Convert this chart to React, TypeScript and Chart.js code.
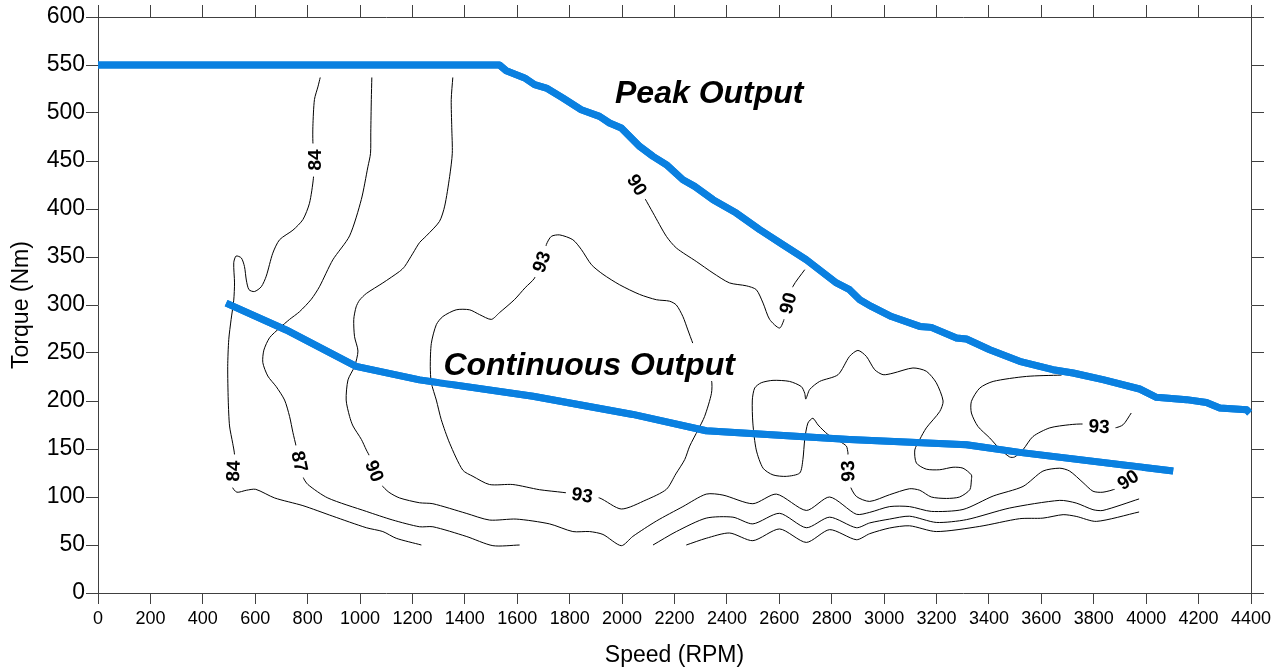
import React, { useEffect, useRef } from 'react';
import { Chart, registerables } from 'chart.js';

Chart.register(...registerables);

type P = [number, number];

// Axis ranges
const speedMin = 0;
const speedMax = 4400;
const speedStep = 200;
const torqueMin = 0;
const torqueMax = 600;
const torqueStep = 50;

// Output curves (RPM, Nm)
const peakOutput: P[] = [
  [0, 550], [1532, 550], [1558, 544], [1628, 536.5], [1666, 529.5], [1711, 526], [1774, 515.6],
  [1844, 503.4], [1914, 496.5], [1952, 489.6], [1997, 484.4], [2067, 465.2], [2118, 454.8],
  [2169, 446.2], [2232, 430.5], [2277, 423.6], [2347, 409.7], [2436, 395.8], [2525, 378.5],
  [2614, 362.8], [2703, 347.2], [2818, 323], [2868, 316], [2907, 305.5], [2951, 298.5],
  [3028, 288], [3136, 277.7], [3180, 276.7], [3276, 265.6], [3314, 264.6], [3403, 253.4],
  [3517, 241.3], [3644, 232.6], [3721, 229.2], [3835, 222.2], [3975, 212.5], [4039, 203.8],
  [4154, 201.4], [4230, 198.5], [4281, 192.7], [4383, 191], [4395, 187.5],
];

const continuousOutput: P[] = [
  [489, 302], [718, 274], [985, 236], [1227, 222], [1660, 205], [2041, 186], [2321, 169],
  [2678, 163], [2868, 160], [3314, 154.5], [3517, 146.5], [4103, 127],
];

// Efficiency contours (RPM, Nm)
const contour84a: P[] = [
  [848, 537], [840, 528], [826, 514], [820, 486], [820, 470], [824, 451], [822, 432], [807, 406],
  [782, 389], [744, 378], [693, 368], [667, 354], [642, 330], [623, 319], [597, 314], [576, 316],
  [566, 326], [559, 340], [547, 349], [527, 351], [518, 344], [521, 323], [518, 305], [508, 285],
  [499, 264], [495, 236], [497, 201], [502, 174], [514, 156], [521, 144], [518, 127], [512, 111],
  [530, 105], [566, 107], [602, 108], [674, 99], [782, 91], [896, 80], [1024, 68], [1087, 64],
  [1138, 57], [1234, 50],
];
const contour84b: P[] = [
  [2245, 50], [2321, 57], [2410, 62.5], [2499, 54.5], [2601, 66.7], [2703, 52.7], [2792, 66],
  [2894, 55.5], [2945, 61.8], [3021, 67.7], [3097, 70], [3199, 64], [3365, 69.4], [3517, 77.4],
  [3606, 78], [3683, 81.6], [3733, 79.8], [3810, 74.6], [3973, 84.4],
];
const contour87a: P[] = [
  [1045, 537], [1043, 514], [1041, 480], [1040, 458], [1030, 444], [1005, 410], [960, 372],
  [896, 347], [845, 319], [814, 306], [769, 293], [731, 285], [693, 276], [655, 266], [633, 253],
  [629, 240], [648, 226], [680, 215], [712, 201], [731, 184], [744, 167], [756, 153], [769, 137],
  [782, 121], [801, 113], [877, 99], [1024, 85], [1125, 76], [1227, 69], [1278, 69], [1405, 59],
  [1507, 49.3], [1609, 50],
];
const contour87b: P[] = [
  [2118, 50], [2207, 64], [2321, 78], [2423, 79], [2499, 72], [2601, 83], [2703, 68], [2792, 79],
  [2894, 68], [2945, 73], [3021, 77], [3097, 80], [3199, 73.5], [3314, 76.4], [3479, 88.5],
  [3670, 96.5], [3733, 93.7], [3797, 86.8], [3835, 86], [3973, 98],
];
const contour90a: P[] = [
  [1354, 537], [1348, 514], [1350, 485], [1352, 458], [1342, 434], [1323, 403], [1303, 387],
  [1253, 372], [1227, 365], [1202, 354], [1170, 340], [1151, 335], [1087, 323], [1024, 312],
  [998, 305], [985, 298], [976, 285], [979, 267], [992, 252], [979, 236], [954, 222], [947, 201],
  [960, 184], [973, 174], [1005, 160], [1024, 149], [1039, 141], [1055, 127], [1081, 113],
  [1110, 105], [1151, 99], [1227, 94], [1278, 93], [1405, 83], [1494, 76], [1596, 77], [1723, 72],
  [1812, 64], [1876, 64], [1927, 61], [1997, 49.3], [2041, 59], [2131, 75], [2232, 90], [2321, 103],
  [2385, 102], [2499, 93], [2589, 103], [2703, 86], [2792, 100], [2894, 82], [2945, 84], [3021, 90],
  [3097, 90], [3180, 85], [3301, 87], [3416, 101], [3530, 111], [3606, 127], [3670, 130],
  [3708, 127], [3759, 115], [3797, 106], [3835, 105], [3887, 109], [3931, 118],
];
const contour90b: P[] = [
  [2026, 437.5], [2057, 425], [2086, 411.5], [2118, 396], [2169, 371.5], [2207, 359.4],
  [2283, 345.4], [2347, 333.3], [2410, 323], [2474, 320], [2512, 316], [2538, 302], [2563, 285],
  [2601, 276], [2620, 286.5], [2633, 302], [2652, 319.4], [2697, 336.8],
];
const contour93a: P[] = [
  [2270, 260], [2251, 274], [2232, 288], [2207, 300], [2181, 304], [2131, 305.5], [2067, 311],
  [1991, 321], [1927, 332], [1883, 342], [1844, 358], [1812, 368], [1762, 373], [1730, 371.5],
  [1711, 363], [1692, 345], [1666, 328], [1630, 318], [1589, 305.5], [1532, 292], [1501, 285],
  [1456, 290], [1418, 295], [1367, 295], [1316, 288], [1291, 279.5], [1272, 260], [1268, 236],
  [1272, 219], [1291, 201], [1310, 180.5], [1342, 156], [1392, 128], [1431, 121.5], [1494, 113],
  [1583, 113], [1685, 107.6], [1774, 104.8], [1848, 102], [1914, 99], [1997, 87.5], [2092, 97],
  [2169, 108], [2205, 124], [2239, 139], [2258, 153], [2290, 170], [2315, 184], [2341, 208],
  [2341, 222], [2310, 242], [2270, 260],
];
const contour93b: P[] = [
  [2862, 146], [2856, 153], [2830, 158], [2786, 165], [2748, 175], [2728, 182], [2709, 177],
  [2697, 160], [2690, 139], [2678, 125], [2627, 121.5], [2576, 123], [2538, 130], [2512, 149],
  [2499, 177], [2497, 201], [2506, 213.5], [2531, 219], [2576, 221.5], [2639, 220.4], [2684, 215],
  [2697, 208], [2701, 202], [2716, 212], [2754, 220.4], [2824, 227.4], [2868, 246.5], [2900, 252.7],
  [2932, 246.5], [2964, 232.6], [2996, 227.4], [3034, 229], [3110, 234.4], [3161, 231], [3199, 219],
  [3225, 200], [3212, 189], [3161, 172], [3136, 160], [3117, 149], [3123, 135.4], [3161, 129],
  [3212, 128.4], [3263, 131], [3301, 130], [3333, 123], [3333, 118], [3327, 107.6], [3288, 100],
  [3238, 98.5], [3180, 100], [3136, 107], [3097, 108.6], [3021, 102.4], [2945, 95.4], [2894, 100.6],
  [2868, 113], [2862, 127], [2862, 146],
];
const contour93c: P[] = [
  [3677, 227], [3543, 225.6], [3416, 220.4], [3365, 213.5], [3333, 199.6], [3333, 187.5],
  [3358, 173.5], [3403, 161.5], [3438, 151], [3479, 141.7], [3498, 141.7], [3530, 149.3],
  [3568, 163], [3632, 172], [3708, 175.3], [3760, 176], [3820, 173.5], [3880, 172], [3912, 175.3],
  [3943, 187.5],
];

// Contour labels: text, RPM, Nm, angle (deg)
const contourLabelText = ['84', '84', '87', '90', '93', '93', '90', '90', '93', '93', '90'];
const contourLabelRpm = [826, 516, 769, 1055, 1692, 1848, 2057, 2633, 2862, 3820, 3931];
const contourLabelNm = [451, 127, 137, 127, 345, 102, 425, 302, 127, 173.5, 118];
const contourLabelAngle = [-90, -88, 78, 68, -70, 9, 58, -75, -92, 3, -34];

// Region annotations: text, RPM, Nm (left baseline)
const regionText = ['Peak Output', 'Continuous Output'];
const regionRpm = [1973, 1318];
const regionNm = [510, 227];

const FONT = '"Liberation Sans", Arial, Helvetica, sans-serif';
const BLUE = '#0a80e0';
const AXIS = '#404040';

const toXY = (pts: P[]) => pts.map(([x, y]) => ({ x, y }));

const overlayPlugin = {
  id: 'overlayText',
  afterDatasetsDraw(chart: any) {
    const ctx = chart.ctx as CanvasRenderingContext2D;
    const xs = chart.scales.x;
    const ys = chart.scales.y;
    ctx.save();
    ctx.font = `bold 19px ${FONT}`;
    ctx.textAlign = 'center';
    ctx.textBaseline = 'middle';
    for (let i = 0; i < contourLabelText.length; i++) {
      const px = xs.getPixelForValue(contourLabelRpm[i]);
      const py = ys.getPixelForValue(contourLabelNm[i]);
      const w = ctx.measureText(contourLabelText[i]).width;
      ctx.save();
      ctx.translate(px, py);
      ctx.rotate((contourLabelAngle[i] * Math.PI) / 180);
      ctx.fillStyle = '#ffffff';
      ctx.fillRect(-w / 2 - 6, -9, w + 12, 18);
      ctx.fillStyle = '#000000';
      ctx.fillText(contourLabelText[i], 0, 1);
      ctx.restore();
    }
    ctx.font = `italic bold 32px ${FONT}`;
    ctx.textAlign = 'left';
    ctx.textBaseline = 'alphabetic';
    for (let i = 0; i < regionText.length; i++) {
      const px = xs.getPixelForValue(regionRpm[i]);
      const py = ys.getPixelForValue(regionNm[i]);
      const w = ctx.measureText(regionText[i]).width;
      ctx.fillStyle = '#ffffff';
      ctx.fillRect(px - 4, py - 32, w + 8, 38);
      ctx.fillStyle = '#000000';
      ctx.fillText(regionText[i], px, py);
    }
    ctx.restore();
    chart.data.datasets.forEach((ds: any, i: number) => {
      if (ds.isOutput) {
        ctx.save();
        chart.getDatasetMeta(i).controller.draw();
        ctx.restore();
      }
    });
  },
};

export default function App() {
  const ref = useRef<HTMLCanvasElement | null>(null);

  useEffect(() => {
    if (!ref.current) return;
    Chart.defaults.font.family = FONT;
    const contourSets = [
      contour84a, contour84b, contour87a, contour87b, contour90a, contour90b,
      contour93a, contour93b, contour93c,
    ].map((c) => ({
      data: toXY(c),
      borderColor: '#000000',
      borderWidth: 1,
      pointRadius: 0,
      tension: 0.25,
      fill: false,
    }));
    const outputSets = [peakOutput, continuousOutput].map((c) => ({
      data: toXY(c),
      borderColor: BLUE,
      borderWidth: 7,
      pointRadius: 0,
      tension: 0,
      fill: false,
      borderCapStyle: 'butt',
      borderJoinStyle: 'round',
      isOutput: true,
    }));

    const tickGrid = (len: number) => ({
      display: true,
      drawOnChartArea: false,
      drawTicks: true,
      tickLength: len,
      color: AXIS,
      lineWidth: 1,
    });
    const plain = (v: any) => String(v);

    const chart = new Chart(ref.current, {
      type: 'line',
      data: { datasets: [...outputSets, ...contourSets] as any },
      plugins: [overlayPlugin],
      options: {
        animation: false,
        responsive: false,
        maintainAspectRatio: false,
        events: [],
        layout: { padding: 0 },
        plugins: { legend: { display: false }, tooltip: { enabled: false } },
        scales: {
          x: {
            type: 'linear',
            position: 'bottom',
            min: speedMin,
            max: speedMax,
            ticks: { stepSize: speedStep, autoSkip: false, maxRotation: 0, padding: 4, color: '#000', font: { size: 18 }, callback: plain },
            grid: tickGrid(11),
            border: { display: true, color: AXIS, width: 1 },
            title: { display: true, text: 'Speed (RPM)', color: '#000', font: { size: 23 }, padding: { top: 0, bottom: 2 } },
            afterFit: (s: any) => { s.height = 78; },
          },
          x2: {
            type: 'linear',
            position: 'top',
            min: speedMin,
            max: speedMax,
            ticks: { stepSize: speedStep, display: false, autoSkip: false },
            grid: tickGrid(12),
            border: { display: true, color: AXIS, width: 1 },
            afterFit: (s: any) => { s.height = 17; },
          },
          y: {
            type: 'linear',
            position: 'left',
            min: torqueMin,
            max: torqueMax,
            ticks: { stepSize: torqueStep, autoSkip: false, padding: 1, color: '#000', font: { size: 23 }, callback: plain },
            grid: tickGrid(12),
            border: { display: true, color: AXIS, width: 1 },
            title: { display: true, text: 'Torque (Nm)', color: '#000', font: { size: 23 }, padding: { top: 8, bottom: 0 } },
            afterFit: (s: any) => { s.width = 98; },
          },
          y2: {
            type: 'linear',
            position: 'right',
            min: torqueMin,
            max: torqueMax,
            ticks: { stepSize: torqueStep, display: false, autoSkip: false },
            grid: tickGrid(13),
            border: { display: true, color: AXIS, width: 1 },
            afterFit: (s: any) => { s.width = 29; },
          },
        },
      } as any,
    });
    return () => chart.destroy();
  }, []);

  return (
    <div style={{ position: 'fixed', left: 0, top: 0, width: 1280, height: 671, background: '#fff' }}>
      <canvas ref={ref} width={1280} height={671} style={{ display: 'block', width: 1280, height: 671 }} />
    </div>
  );
}
